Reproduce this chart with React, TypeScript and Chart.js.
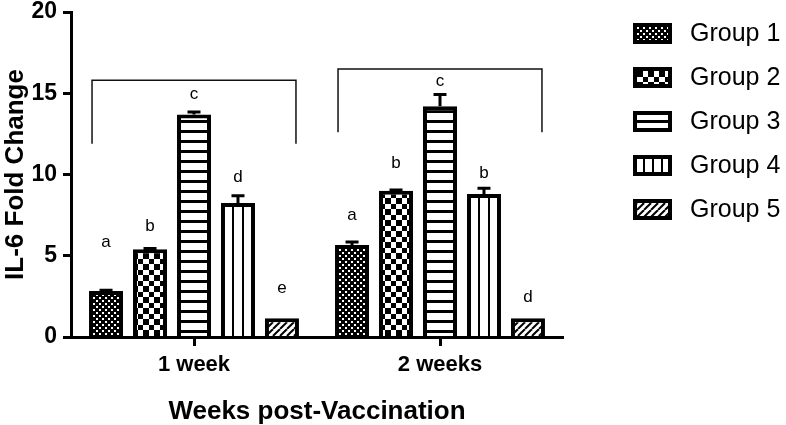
import React, { useEffect, useRef } from 'react';
import { Chart, registerables } from 'chart.js';

Chart.register(...registerables);

// ---------- data ----------
const categories = ['1 week', '2 weeks'];
const groupNames = ['Group 1', 'Group 2', 'Group 3', 'Group 4', 'Group 5'];

const group1 = [2.83, 5.66];
const group2 = [5.4, 9.0];
const group3 = [13.7, 14.2];
const group4 = [8.25, 8.8];
const group5 = [1.15, 1.15];

const group1Err = [0.05, 0.18];
const group2Err = [0.05, 0.05];
const group3Err = [0.15, 0.72];
const group4Err = [0.45, 0.35];
const group5Err = [0, 0];

const group1Letters = ['a', 'a'];
const group2Letters = ['b', 'b'];
const group3Letters = ['c', 'c'];
const group4Letters = ['d', 'b'];
const group5Letters = ['e', 'd'];

const group1LetterLevel = [5.8, 7.5];
const group2LetterLevel = [6.8, 10.7];
const group3LetterLevel = [14.95, 15.75];
const group4LetterLevel = [9.85, 10.1];
const group5LetterLevel = [3.0, 2.45];

const bracketTop = [15.8, 16.5];
const bracketBottom = [11.9, 12.6];

const yTicks = [0, 5, 10, 15, 20];

// ---------- styling constants ----------
const FONT = "'Liberation Sans', Arial, Helvetica, sans-serif";
const CAT_PCT = 0.894;
const BAR_PCT = 0.773;
const BORDER = 4;

type Kind = 'dots' | 'checker' | 'hlines' | 'vlines' | 'diag';
const kinds: Kind[] = ['dots', 'checker', 'hlines', 'vlines', 'diag'];

function makeTile(kind: Kind, w?: number): HTMLCanvasElement {
  const c = document.createElement('canvas');
  const g = c.getContext('2d')!;
  if (kind === 'dots') {
    c.width = 6; c.height = 6;
    g.fillStyle = '#000'; g.fillRect(0, 0, 6, 6);
    g.fillStyle = '#fff'; g.fillRect(0, 0, 2, 2); g.fillRect(3, 3, 2, 2);
  } else if (kind === 'checker') {
    c.width = 11; c.height = 11;
    g.fillStyle = '#fff'; g.fillRect(0, 0, 11, 11);
    g.fillStyle = '#000'; g.fillRect(0, 0, 6, 6); g.fillRect(6, 6, 5, 5);
  } else if (kind === 'hlines') {
    c.width = 10; c.height = 10;
    g.fillStyle = '#fff'; g.fillRect(0, 0, 10, 10);
    g.fillStyle = '#000'; g.fillRect(0, 0, 10, 3);
  } else if (kind === 'vlines') {
    const W = Math.max(8, Math.round(w || 9));
    c.width = W; c.height = 10;
    g.fillStyle = '#fff'; g.fillRect(0, 0, W, 10);
    g.fillStyle = '#000';
    if (w) {
      const inner = W - 2 * BORDER;
      const gap = (inner - 4) / 3;
      g.fillRect(Math.round(BORDER + gap), 0, 2, 10);
      g.fillRect(Math.round(BORDER + 2 * gap + 2), 0, 2, 10);
    } else {
      g.fillRect(0, 0, 2, 10);
    }
  } else {
    c.width = 7; c.height = 7;
    g.fillStyle = '#fff'; g.fillRect(0, 0, 7, 7);
    g.strokeStyle = '#000'; g.lineWidth = 2;
    for (const k of [-7, 0, 7]) {
      g.beginPath(); g.moveTo(k, 7); g.lineTo(k + 7, 0); g.stroke();
    }
  }
  return c;
}

export default function App() {
  const ref = useRef<HTMLCanvasElement>(null);

  useEffect(() => {
    const canvas = ref.current!;
    const mainCtx = canvas.getContext('2d')!;
    const pat = (k: Kind, w?: number) => mainCtx.createPattern(makeTile(k, w), 'repeat')!;
    const staticPatterns: Record<string, CanvasPattern> = {
      dots: pat('dots'), checker: pat('checker'), hlines: pat('hlines'), diag: pat('diag'), vlines: pat('vlines'),
    };

    const values = [group1, group2, group3, group4, group5];
    const errs = [group1Err, group2Err, group3Err, group4Err, group5Err];
    const letters = [group1Letters, group2Letters, group3Letters, group4Letters, group5Letters];
    const letterLevels = [group1LetterLevel, group2LetterLevel, group3LetterLevel, group4LetterLevel, group5LetterLevel];

    const vlinesBg = (ctx: any) => {
      const chart = ctx.chart;
      const xs = chart.scales && chart.scales.x;
      if (!xs || ctx.type !== 'data' || xs.width <= 0) return staticPatterns.vlines;
      const catW = categories.length > 1 ? xs.getPixelForValue(1) - xs.getPixelForValue(0) : xs.width;
      const chunk = (catW * CAT_PCT) / 5;
      const size = chunk * BAR_PCT;
      const center = xs.getPixelForValue(ctx.dataIndex) - (catW * CAT_PCT) / 2 + chunk * ctx.datasetIndex + chunk / 2;
      const left = center - size / 2;
      const p = pat('vlines', size);
      p.setTransform(new DOMMatrix().translate(Math.round(left), 0));
      return p;
    };

    const datasets = groupNames.map((name, i) => ({
      label: name,
      data: values[i],
      backgroundColor: kinds[i] === 'vlines' ? vlinesBg : staticPatterns[kinds[i]],
      borderColor: '#000',
      borderWidth: BORDER,
      borderSkipped: 'start' as const,
      categoryPercentage: CAT_PCT,
      barPercentage: BAR_PCT,
    }));

    const annotations = {
      id: 'annotations',
      afterDatasetsDraw(chart: any) {
        const c = chart.ctx;
        const ys = chart.scales.y;
        c.save();
        // error bars
        c.strokeStyle = '#000';
        c.lineWidth = 3;
        c.lineCap = 'butt';
        values.forEach((_, di) => {
          const meta = chart.getDatasetMeta(di);
          meta.data.forEach((bar: any, j: number) => {
            const e = errs[di][j];
            if (!e) return;
            const yTop = ys.getPixelForValue(values[di][j] + e);
            c.beginPath();
            c.moveTo(bar.x, bar.y);
            c.lineTo(bar.x, yTop);
            c.moveTo(bar.x - 6.5, yTop);
            c.lineTo(bar.x + 6.5, yTop);
            c.stroke();
          });
        });
        // letters
        c.fillStyle = '#000';
        c.font = `17px ${FONT}`;
        c.textAlign = 'center';
        c.textBaseline = 'middle';
        values.forEach((_, di) => {
          const meta = chart.getDatasetMeta(di);
          meta.data.forEach((bar: any, j: number) => {
            c.fillText(letters[di][j], bar.x, ys.getPixelForValue(letterLevels[di][j]));
          });
        });
        // brackets
        c.strokeStyle = '#111';
        c.lineWidth = 1.5;
        const first = chart.getDatasetMeta(0);
        const last = chart.getDatasetMeta(values.length - 1);
        categories.forEach((_, j) => {
          const l = first.data[j].x - 14;
          const r = last.data[j].x + 14;
          const t = ys.getPixelForValue(bracketTop[j]);
          const b = ys.getPixelForValue(bracketBottom[j]);
          c.beginPath();
          c.moveTo(l, b);
          c.lineTo(l, t);
          c.lineTo(r, t);
          c.lineTo(r, b);
          c.stroke();
        });
        c.restore();
      },
      afterDraw(chart: any) {
        const c = chart.ctx;
        c.save();
        const x0 = 633, w = 39, h = 21;
        groupNames.forEach((name, i) => {
          const y0 = 23 + 44 * i;
          c.fillStyle = '#000';
          c.fillRect(x0, y0, w, h);
          let p: CanvasPattern;
          if (kinds[i] === 'vlines') {
            p = pat('vlines');
            p.setTransform(new DOMMatrix().translate(x0 + BORDER + 6, 0));
          } else {
            p = pat(kinds[i]);
            p.setTransform(new DOMMatrix().translate(x0 + BORDER, y0 + BORDER + (kinds[i] === 'hlines' ? 5 : 0)));
          }
          c.fillStyle = p;
          c.fillRect(x0 + BORDER, y0 + BORDER, w - 2 * BORDER, h - 2 * BORDER);
          c.fillStyle = '#000';
          c.font = `25px ${FONT}`;
          c.textAlign = 'left';
          c.textBaseline = 'middle';
          c.fillText(name, 690, y0 + h / 2 + 1);
        });
        c.restore();
      },
    };

    const chart = new Chart(canvas, {
      type: 'bar',
      data: { labels: categories, datasets },
      options: {
        responsive: false,
        devicePixelRatio: 1,
        animation: false,
        events: [],
        layout: { padding: { left: 0, right: 223, top: 0, bottom: 0 } },
        plugins: { legend: { display: false }, tooltip: { enabled: false } },
        scales: {
          x: {
            afterFit: (s: any) => { s.height = 88; },
            ticks: { font: { family: FONT, size: 22, weight: 'bold' }, color: '#000', padding: 6 },
            grid: { drawOnChartArea: false, offset: false, tickLength: 9, tickWidth: 3, tickColor: '#000' },
            border: { display: true, color: '#000', width: 3, z: 1 },
            title: {
              display: true, text: 'Weeks post-Vaccination', color: '#000',
              font: { family: FONT, size: 26, weight: 'bold', lineHeight: 1 },
              padding: { top: 0, bottom: 0 },
            },
          },
          y: {
            min: 0,
            max: 20,
            afterFit: (s: any) => { s.width = 71; s.paddingTop = 12; s.paddingBottom = 0; },
            afterBuildTicks: (s: any) => { s.ticks = yTicks.map((v) => ({ value: v })); },
            ticks: { font: { family: FONT, size: 23, weight: 'bold', lineHeight: 1.1 }, color: '#000', padding: 6 },
            grid: { drawOnChartArea: false, tickLength: 8, tickWidth: 3, tickColor: '#000' },
            border: { display: true, color: '#000', width: 3, z: 1 },
            title: {
              display: true, text: 'IL-6 Fold Change', color: '#000',
              font: { family: FONT, size: 26, weight: 'bold', lineHeight: 1 },
              padding: { top: 3, bottom: 0 },
            },
          },
        },
      } as any,
      plugins: [annotations],
    });
    return () => chart.destroy();
  }, []);

  return (
    <div style={{ position: 'absolute', left: 0, top: 0, width: 786, height: 425, background: '#fff' }}>
      <canvas ref={ref} width={786} height={425} style={{ display: 'block', width: 786, height: 425 }} />
    </div>
  );
}
